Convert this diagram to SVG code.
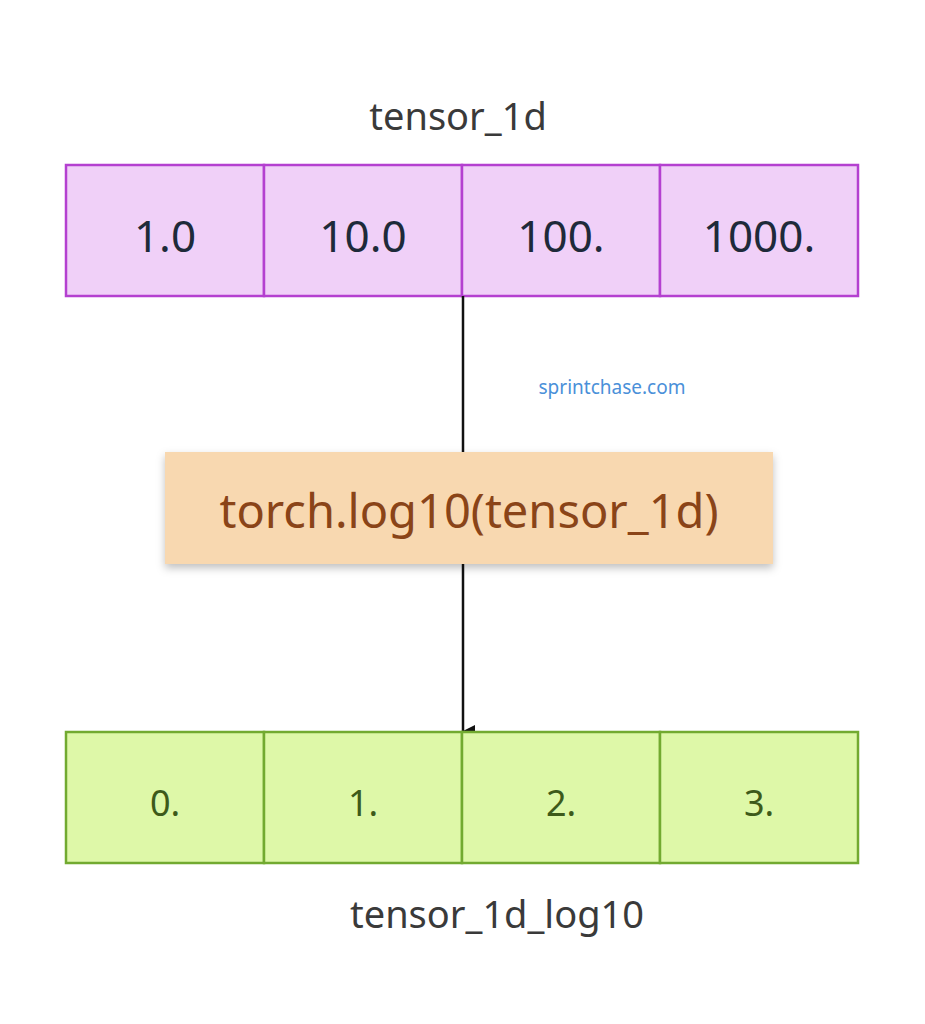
<svg xmlns="http://www.w3.org/2000/svg" width="925" height="1024" viewBox="0 0 925 1024">
<defs>
<style>
text{font-family:"Noto Sans","Open Sans",sans-serif;text-anchor:middle}
.top{fill:#f0d0f8;stroke:#b440d0;stroke-width:2.5}
.bot{fill:#def8a8;stroke:#72aa30;stroke-width:2.5}
.tv{font-size:44px;fill:#1e2a3a}
.bv{font-size:36px;fill:#3d5a1a}
.lbl{font-size:38px;fill:#3a3a3a}
</style>
<marker id="ah" markerWidth="12" markerHeight="12" refX="6" refY="12" orient="auto" markerUnits="userSpaceOnUse" viewBox="0 0 12 12"><path d="M0,0L12,0L6,12Z" fill="#111"/></marker>
<filter id="sh" x="-5%" y="-20%" width="110%" height="150%"><feDropShadow dx="0" dy="4" stdDeviation="4" flood-color="#000" flood-opacity="0.25"/></filter>
</defs>
<rect width="925" height="1024" fill="#fff"/>
<text class="lbl" x="458" y="130">tensor_1d</text>
<g id="tensor_1d">
<rect class="top" x="66" y="165" width="198" height="131"/>
<rect class="top" x="264" y="165" width="198" height="131"/>
<rect class="top" x="462" y="165" width="198" height="131"/>
<rect class="top" x="660" y="165" width="198" height="131"/>
<text class="tv" x="165" y="252">1.0</text>
<text class="tv" x="363" y="252">10.0</text>
<text class="tv" x="561" y="252">100.</text>
<text class="tv" x="759" y="252">1000.</text>
</g>
<g id="connectors" stroke="#111" stroke-width="2.5" fill="none">
<line x1="463" y1="296" x2="463" y2="452"/>
<line x1="463" y1="564" x2="463" y2="731" marker-end="url(#ah)"/>
</g>
<text x="612" y="394" style="font-size:19px;fill:#4a90d9">sprintchase.com</text>
<g id="op">
<rect x="165" y="452" width="608" height="112" fill="#f8d8b0" filter="url(#sh)"/>
<text x="469" y="528" style="font-size:47px;fill:#8a4418">torch.log10(tensor_1d)</text>
</g>
<g id="tensor_1d_log10">
<rect class="bot" x="66" y="732" width="198" height="131"/>
<rect class="bot" x="264" y="732" width="198" height="131"/>
<rect class="bot" x="462" y="732" width="198" height="131"/>
<rect class="bot" x="660" y="732" width="198" height="131"/>
<text class="bv" x="165" y="816">0.</text>
<text class="bv" x="363" y="816">1.</text>
<text class="bv" x="561" y="816">2.</text>
<text class="bv" x="759" y="816">3.</text>
</g>
<text class="lbl" x="497" y="928">tensor_1d_log10</text>
</svg>
